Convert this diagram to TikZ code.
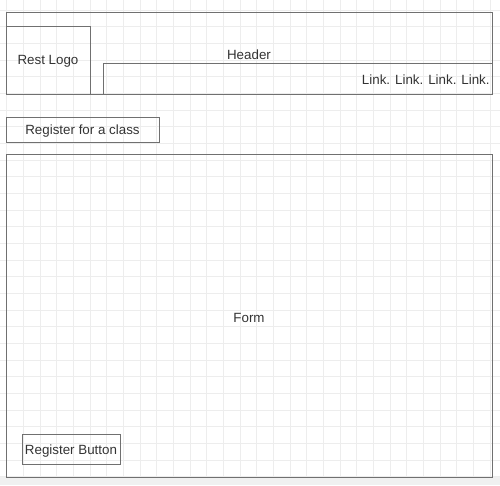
\documentclass[tikz,border=0pt]{standalone}
\usepackage{fontspec}
\setmainfont{Liberation Sans}
\usepackage{tikz}
\usetikzlibrary{backgrounds}
\definecolor{gridgray}{HTML}{EDEDED}
\definecolor{boxgray}{HTML}{707070}
\definecolor{textgray}{HTML}{333333}
\tikzset{
	wirebox/.style = {draw = boxgray, line width = .55pt},
	wiretext/.style = {text = textgray, font = \fontsize{7.6}{9}\selectfont, inner sep = 0pt, yshift = -1pt},
}

\begin{document}
\begin{tikzpicture}
	\useasboundingbox (0,0) rectangle (10,9.7);
	\fill[gray!12] (0,0) rectangle (10,.16);
	\foreach \i in {0,...,29} {
		\draw[gridgray, line width = .45pt] (.1333+\i*.3333,.16) -- (.1333+\i*.3333,9.7);
	}
	\foreach \j in {0,...,28} {
		\draw[gridgray, line width = .45pt] (0,.1667+\j*.3333) -- (10,.1667+\j*.3333);
	}
	% header
	\draw[wirebox] (.12,7.82) rectangle (9.84,9.46);
	\draw[wirebox] (.12,7.82) rectangle (1.8,9.18);
	\draw[wirebox] (2.06,7.82) rectangle (9.84,8.44);
	\node[wiretext] (logo) at (.96,8.5) {Rest Logo};
	\node[wiretext] (header) at (4.98,8.64) {Header};
	\node[wiretext, anchor = east] (links) at (9.8,8.14) {Link. Link. Link. Link.};
	% title
	\draw[wirebox] (.12,6.86) rectangle (3.18,7.36);
	\node[wiretext] (title) at (1.65,7.11) {Register for a class};
	% form
	\draw[wirebox] (.12,.16) rectangle (9.84,6.62);
	\node[wiretext] (form) at (4.98,3.38) {Form};
	\draw[wirebox] (.44,.42) rectangle (2.4,1.02);
	\node[wiretext] (button) at (1.42,.72) {Register Button};
\end{tikzpicture}
\end{document}
